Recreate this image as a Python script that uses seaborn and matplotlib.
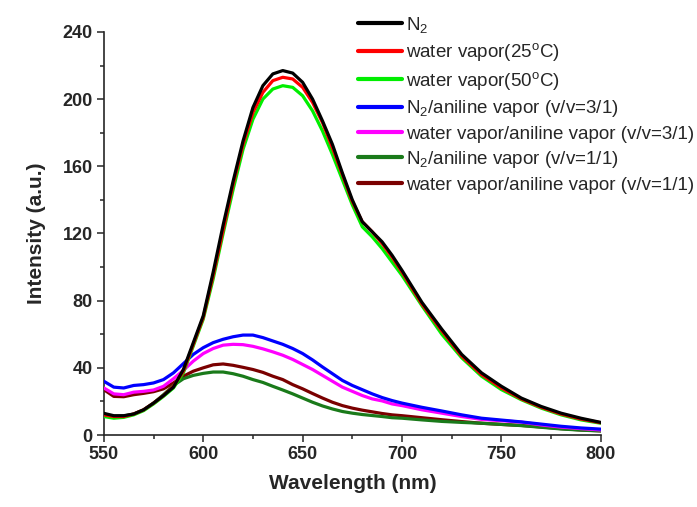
import matplotlib
matplotlib.use("Agg")
import matplotlib.pyplot as plt
import seaborn as sns
import pandas as pd
from matplotlib.ticker import MultipleLocator

wavelength = [550, 555, 560, 565, 570, 575, 580, 585, 590, 595, 600, 605, 610, 615, 620,
              625, 630, 635, 640, 645, 650, 655, 660, 665, 670, 675, 680, 685, 690, 695,
              700, 710, 720, 730, 740, 750, 760, 770, 780, 790, 800]

n2 = [12.9, 11.5, 11.5, 12.5, 15, 19, 23.5, 28.5, 39, 55, 71, 97, 125, 151, 175,
      195, 208, 215, 217, 215.5, 210, 200, 187, 173, 156, 140, 127, 121, 115, 107,
      98, 79, 63, 48, 37, 29, 22, 17, 13, 10, 7.5]
water25 = [12, 11, 11, 12.5, 15, 19, 23.5, 29, 38, 54, 70, 95, 122, 149, 173,
           192, 204, 211, 213, 212, 207, 198, 186, 171, 155, 139, 127, 121, 114, 106,
           97, 78, 62, 47, 36, 28, 21.5, 16.5, 12.5, 9.5, 7.3]
water50 = [11, 10, 10.5, 12, 14.5, 18.5, 23, 28, 37, 53, 69, 93, 120, 146, 170,
           188, 200, 206, 208, 207, 202, 193, 181, 167, 152, 137, 124, 118, 111, 103,
           95, 77, 60, 46, 35, 27, 21, 16, 12, 9, 7]
n2_aniline_31 = [32, 28.5, 28, 29.5, 30, 31, 33, 37, 42.5, 48, 52, 55, 57, 58.5, 59.5,
                 59.5, 58, 56, 54, 51.5, 48.5, 44.7, 40.5, 36.5, 32.5, 29.5, 27, 24.5, 22.3, 20.5,
                 19, 16.5, 14.3, 12, 10, 8.9, 7.8, 6.5, 5.2, 4.2, 3.5]
water_aniline_31 = [28, 24.5, 24, 25.5, 26, 26.8, 29, 33.5, 38.5, 44, 48.5, 51.5, 53.5, 54, 53.8,
                    52.8, 51.3, 49.5, 47.5, 45, 42, 39, 35.5, 32, 28.5, 26, 23.5, 21.5, 20.3, 18.5,
                    17.5, 15, 13, 11, 9.3, 8.5, 7.7, 6, 4.7, 3.8, 3]
n2_aniline_11 = [12, 11, 11.3, 12.5, 15, 19, 24, 29.5, 33.5, 35.5, 36.7, 37.5, 37.5, 36.5, 35,
                 33, 31.3, 29, 26.8, 24.5, 22, 19.5, 17.3, 15.5, 14, 13, 12.2, 11.6, 11, 10.3,
                 10, 9, 8.1, 7.5, 7, 6.3, 5.6, 4.6, 3.6, 2.9, 2.4]
water_aniline_11 = [27, 23, 22.8, 24, 24.8, 25.8, 27.5, 31, 35, 38, 40, 41.8, 42.3, 41.5, 40.3,
                    39, 37.3, 35, 33, 30, 27.5, 24.7, 22, 19.5, 17.5, 16, 14.8, 13.8, 12.8, 12,
                    11.5, 10.3, 9.1, 8, 7, 6.3, 5.7, 4.8, 3.8, 3, 2.5]

labels = ["N$_2$", "water vapor(25$^\\mathregular{o}$C)", "water vapor(50$^\\mathregular{o}$C)",
          "N$_2$/aniline vapor (v/v=3/1)", "water vapor/aniline vapor (v/v=3/1)",
          "N$_2$/aniline vapor (v/v=1/1)", "water vapor/aniline vapor (v/v=1/1)"]
series = [n2, water25, water50, n2_aniline_31, water_aniline_31, n2_aniline_11, water_aniline_11]
colors = ["#000000", "#ff0000", "#00ee00", "#0000ff", "#ff00ff", "#1a7a1a", "#7a0000"]

rows = []
for lab, vals in zip(labels, series):
    for w, v in zip(wavelength, vals):
        rows.append({"Wavelength": w, "Intensity": v, "Sample": lab})
df = pd.DataFrame(rows)

sns.set_style("ticks")
plt.rcParams["font.family"] = ["Liberation Sans", "DejaVu Sans"]
plt.rcParams["mathtext.fontset"] = "custom"
plt.rcParams["mathtext.rm"] = "Liberation Sans"
plt.rcParams["mathtext.it"] = "Liberation Sans"

fig = plt.figure(figsize=(6.97, 5.07), dpi=100)
ax = fig.add_axes([0.149, 0.142, 0.713, 0.795])

# draw low curves first, black on top
order = [6, 5, 4, 3, 2, 1, 0]
for i in order:
    sub = df[df["Sample"] == labels[i]]
    sns.lineplot(data=sub, x="Wavelength", y="Intensity", color=colors[i], lw=2.3,
                 ax=ax, label=labels[i], zorder=10 - i, legend=False)

ax.set_xlim(550, 800)
ax.set_ylim(0, 240)
ax.xaxis.set_major_locator(MultipleLocator(50))
ax.xaxis.set_minor_locator(MultipleLocator(25))
ax.yaxis.set_major_locator(MultipleLocator(40))
ax.yaxis.set_minor_locator(MultipleLocator(20))
ax.tick_params(which="major", direction="out", length=5, width=1.1, labelsize=13, pad=3)
ax.tick_params(which="minor", direction="out", length=3, width=1.1)
for lab in ax.get_xticklabels() + ax.get_yticklabels():
    lab.set_fontweight("bold")
sns.despine(ax=ax)
for s in ["left", "bottom"]:
    ax.spines[s].set_linewidth(1.2)

ax.set_xlabel("Wavelength (nm)", fontsize=15, fontweight="bold", labelpad=8)
ax.set_ylabel("Intensity (a.u.)", fontsize=15, fontweight="bold", labelpad=12)

handles = [plt.Line2D([], [], color=c, lw=3) for c in colors]
leg = ax.legend(handles, labels, loc="upper left", bbox_to_anchor=(358 / 697, 1 - 15 / 507),
                bbox_transform=fig.transFigure, frameon=False, fontsize=13.5,
                handlelength=2.35, handletextpad=0.21, labelspacing=0.34, borderpad=0,
                borderaxespad=0)
leg.set_zorder(20)

fig.savefig("out.png", dpi=100)
